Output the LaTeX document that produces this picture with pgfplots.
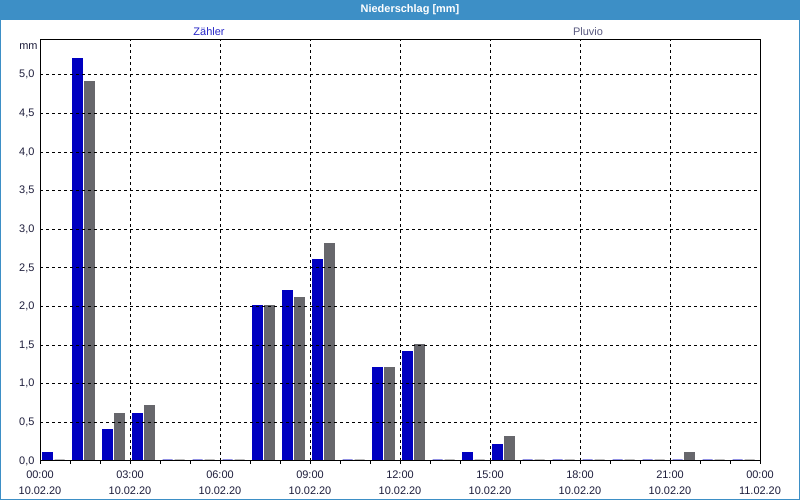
\documentclass[border=0pt]{standalone}
\usepackage{pgfplots}
\usepackage{pgfplotstable}
\pgfplotsset{compat=1.18}
\usepackage{fontspec}
\setmainfont{Liberation Sans}
\definecolor{titleblue}{HTML}{3D8FC6}
\definecolor{zblue}{HTML}{0000C0}
\definecolor{pgray}{HTML}{67676C}
\definecolor{lbl}{HTML}{1E1E3C}
\definecolor{zleg}{HTML}{2828C8}
\definecolor{pleg}{HTML}{5A5A80}
\pgfplotstableread{
hour blue gray
0 0.1 0
1 5.2 4.9
2 0.4 0.6
3 0.6 0.7
4 0 0
5 0 0
6 0 0
7 2.0 2.0
8 2.2 2.1
9 2.6 2.8
10 0 0
11 1.2 1.2
12 1.4 1.5
13 0 0
14 0.1 0
15 0.2 0.3
16 0 0
17 0 0
18 0 0
19 0 0
20 0 0
21 0 0.1
22 0 0
23 0 0
}\data
\begin{document}
\begin{tikzpicture}
\fill[white] (0bp,0bp) rectangle (800bp,500bp);
\fill[titleblue] (0bp,480bp) rectangle (800bp,500bp);
\draw[titleblue, line width=1bp] (0.5bp,0.5bp) rectangle (799.5bp,499.5bp);
\node[white, font=\bfseries\fontsize{11}{13}\selectfont] at (410bp,490bp) {Niederschlag [mm]};
\node[zleg, font=\fontsize{11}{13}\selectfont] at (209bp,468.5bp) {Zähler};
\node[pleg, font=\fontsize{11}{13}\selectfont] at (588bp,468.5bp) {Pluvio};
\node[lbl, font=\fontsize{11}{13}\selectfont] at (28.5bp,453bp) {mm};
\begin{axis}[
  at={(40bp,39bp)}, anchor=south west,
  scale only axis, width=720bp, height=421bp,
  xmin=0, xmax=24, ymin=0, ymax=5.45,
  axis on top,
  axis line style={black, line width=1bp},
  xtick={0,3,...,24},
  xticklabels={{00:00\\10.02.20},{03:00\\10.02.20},{06:00\\10.02.20},{09:00\\10.02.20},{12:00\\10.02.20},{15:00\\10.02.20},{18:00\\10.02.20},{21:00\\10.02.20},{00:00\\11.02.20}},
  minor x tick num=2,
  xtick pos=bottom, ytick pos=left,
  tick align=outside,
  major tick length=3bp, minor tick length=3bp,
  xtick style={black, line width=1bp},
  minor x tick style={black, line width=1bp},
  ytick style={draw=none},
  ytick={0,0.5,...,5.0},
  xticklabel style={align=center, text=lbl, font=\fontsize{11}{16}\selectfont, yshift=-3bp},
  yticklabel style={text=lbl, font=\fontsize{11}{13}\selectfont, xshift=1bp},
  /pgf/number format/.cd, use comma, fixed, fixed zerofill, precision=1, assume math mode=true,
  /pgfplots/.cd,
  xmajorgrids, ymajorgrids,
  major grid style={black, dash pattern=on 3bp off 3bp, line width=1bp},
]
\addplot[ybar, bar width=10bp, bar shift=0pt, fill=zblue, draw=zblue, line width=1bp, yshift=1bp]
  table[x expr=\thisrow{hour}+0.25, y=blue] {\data};
\addplot[ybar, bar width=10bp, bar shift=0pt, fill=pgray, draw=pgray, line width=1bp, yshift=1bp]
  table[x expr=\thisrow{hour}+0.65, y=gray] {\data};
\end{axis}
\end{tikzpicture}
\end{document}
